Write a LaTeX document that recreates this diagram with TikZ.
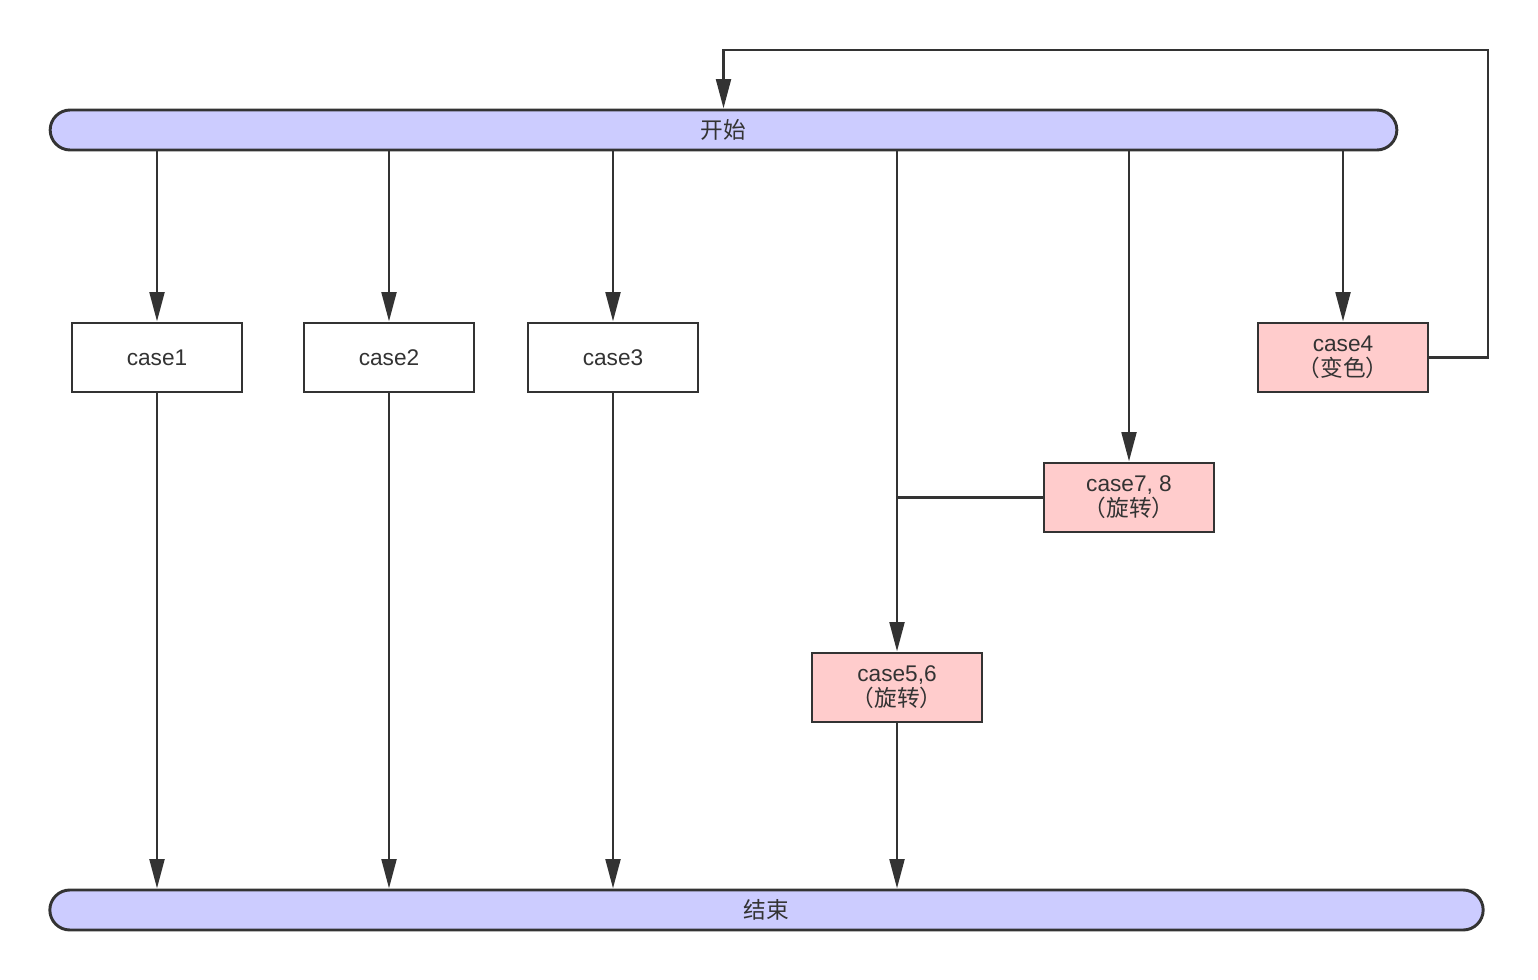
\documentclass[tikz,border=0pt]{standalone}
\usepackage{fontspec}
\setmainfont{Liberation Sans}
\newfontfamily\cjk{Noto Sans CJK SC}
\usetikzlibrary{arrows.meta}
\definecolor{bar}{HTML}{CCCCFF}
\definecolor{hot}{HTML}{FFCCCC}
\definecolor{ink}{HTML}{333333}
\begin{document}
\begin{tikzpicture}[x=0.75pt, y=-0.75pt, line width=2.2pt, ink,
  font=\fontsize{17}{19}\selectfont,
  bar/.style = {draw=ink, fill=bar, rounded corners=15pt, minimum height=30pt, inner sep=0pt, text=ink},
  box/.style = {draw=ink, fill=white, minimum width=127.5pt, minimum height=51.75pt, inner sep=0pt, align=center, text=ink},
  hot/.style = {box, fill=hot},
  arr/.style = {-{Triangle[length=22pt,width=11pt]}}]
\useasboundingbox (0,0) rectangle (1538,980);
\node[bar, minimum width=1010pt] (start) at (723.5,130) {\cjk 开始};
\node[bar, minimum width=1075pt] (end) at (766.5,910) {\cjk 结束};
\node[box] (c1) at (157,357.5) {case1};
\node[box] (c2) at (389,357.5) {case2};
\node[box] (c3) at (613,357.5) {case3};
\node[hot] (c4) at (1343,357.5) {case4\\{\cjk （变色）}};
\node[hot] (c78) at (1129,497.5) {case7, 8\\{\cjk （旋转）}};
\node[hot] (c56) at (897,687.5) {case5,6\\{\cjk （旋转）}};
\coordinate (j) at (897,497.5);
\coordinate (r1) at (1488,357.5);
\coordinate (r2) at (1488,50);
\coordinate (r3) at (723.5,50);
\draw[arr] (start.south -| c1) -- (c1);
\draw[arr] (start.south -| c2) -- (c2);
\draw[arr] (start.south -| c3) -- (c3);
\draw[arr] (start.south -| c56) -- (c56);
\draw[arr] (start.south -| c78) -- (c78);
\draw[arr] (start.south -| c4) -- (c4);
\draw (c78) -- (j);
\draw[arr] (c4) -- (r1) -- (r2) -- (r3) -- (start);
\draw[arr] (c1) -- (end.north -| c1);
\draw[arr] (c2) -- (end.north -| c2);
\draw[arr] (c3) -- (end.north -| c3);
\draw[arr] (c56) -- (end.north -| c56);
\end{tikzpicture}
\end{document}
